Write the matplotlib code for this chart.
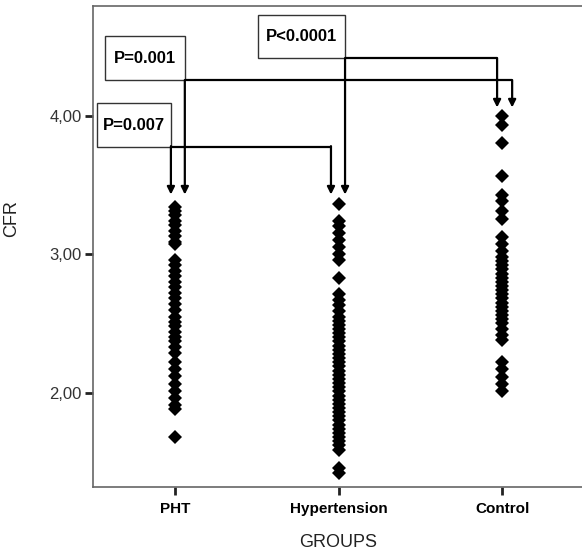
import matplotlib
matplotlib.use("Agg")
import matplotlib.pyplot as plt
from matplotlib.patches import Rectangle

groups = ["PHT", "Hypertension", "Control"]

pht = [3.34, 3.31, 3.28, 3.24, 3.21, 3.17, 3.13, 3.09, 3.07,
       2.96, 2.92, 2.88, 2.84, 2.80, 2.76, 2.72, 2.68, 2.64, 2.60, 2.55, 2.51,
       2.48, 2.44, 2.40, 2.37, 2.33, 2.29, 2.22, 2.17, 2.12, 2.06, 2.01, 1.96,
       1.91, 1.88, 1.68]

hypertension = [3.36, 3.24, 3.20, 3.15, 3.10, 3.05, 3.00, 2.96, 2.83,
                2.71, 2.67, 2.63, 2.59, 2.55, 2.52, 2.49, 2.46, 2.43, 2.40,
                2.37, 2.34, 2.31, 2.28, 2.25, 2.22, 2.19, 2.16, 2.13, 2.10,
                2.07, 2.04, 2.01, 1.98, 1.95, 1.92, 1.89, 1.86, 1.83, 1.80,
                1.77, 1.74, 1.71, 1.68, 1.65, 1.62, 1.59, 1.46, 1.42]

control = [4.00, 3.93, 3.80, 3.56, 3.43, 3.38, 3.31, 3.25, 3.12, 3.07,
           3.02, 2.98, 2.95, 2.92, 2.89, 2.86, 2.83, 2.80, 2.77, 2.74,
           2.71, 2.68, 2.65, 2.62, 2.59, 2.56, 2.53, 2.50, 2.46, 2.42,
           2.38, 2.22, 2.17, 2.11, 2.06, 2.01]

yticks = [2, 3, 4]
ytick_labels = ["2,00", "3,00", "4,00"]

p_labels = ["P=0.007", "P=0.001", "P<0.0001"]
# pairs compared (group indices)
pairs = [(0, 1), (0, 2), (1, 2)]

fig = plt.figure(figsize=(5.82, 5.54), dpi=100)
ax = fig.add_axes([93/582, 67/554, 491/582, 481/554])

for i, vals in enumerate([pht, hypertension, control]):
    ax.plot([i + 1] * len(vals), vals, linestyle="none", marker="D",
            markersize=7.4, color="black", markeredgewidth=0)

ax.set_xlim(0.5, 3.5)
ax.set_ylim(1.32, 4.79)
ax.set_xticks([1, 2, 3])
ax.set_xticklabels(groups, fontsize=11, fontweight="bold", family="Liberation Sans")
ax.set_yticks(yticks)
ax.set_yticklabels(ytick_labels, fontsize=12, family="Liberation Sans", color="#333333")
ax.tick_params(axis="both", length=6, width=2, color="#222222")
ax.tick_params(axis="y", pad=2)
ax.tick_params(axis="x", pad=5)

for s in ax.spines.values():
    s.set_color("#666666")
    s.set_linewidth(1.2)

ax.set_xlabel("GROUPS", fontsize=13, family="Liberation Sans", color="#222222")
ax.xaxis.set_label_coords(0.5, -0.097)
ax.set_ylabel("CFR", fontsize=13, family="Liberation Sans", color="#222222")
ax.yaxis.set_label_coords(-0.149, 0.559)

# annotation layout (box x0, x1, y0, y1), bracket height, arrow x offsets, arrow end heights
boxes = [(0.523, 0.976, 3.776, 4.087),
         (0.572, 1.061, 4.253, 4.570),
         (1.508, 2.040, 4.412, 4.722)]
bar_y = [3.776, 4.253, 4.412]
arrow_x = [(0.976, 1.954), (1.061, 3.061), (2.040, 2.969)]
tip_y = {0: 3.43, 1: 3.43, 2: 4.058}

for k, (lab, (a, b)) in enumerate(zip(p_labels, pairs)):
    x0, x1, y0, y1 = boxes[k]
    ax.add_patch(Rectangle((x0, y0), x1 - x0, y1 - y0, fill=False,
                           edgecolor="#333333", linewidth=1.0, zorder=3))
    ax.text((x0 + x1) / 2, (y0 + y1) / 2, lab, ha="center", va="center",
            fontsize=12, fontweight="bold", family="Liberation Sans", zorder=4)
    xa, xb = arrow_x[k]
    ax.plot([xa, xb], [bar_y[k], bar_y[k]], color="black", lw=1.6,
            solid_capstyle="butt", zorder=3)
    for xx, g in ((xa, a), (xb, b)):
        ax.annotate("", xy=(xx, tip_y[g]), xytext=(xx, bar_y[k] + 0.003),
                    arrowprops=dict(arrowstyle="-|>", color="black", lw=1.6,
                                    mutation_scale=11, shrinkA=0, shrinkB=0),
                    zorder=3)

fig.savefig("out.png", dpi=100)
